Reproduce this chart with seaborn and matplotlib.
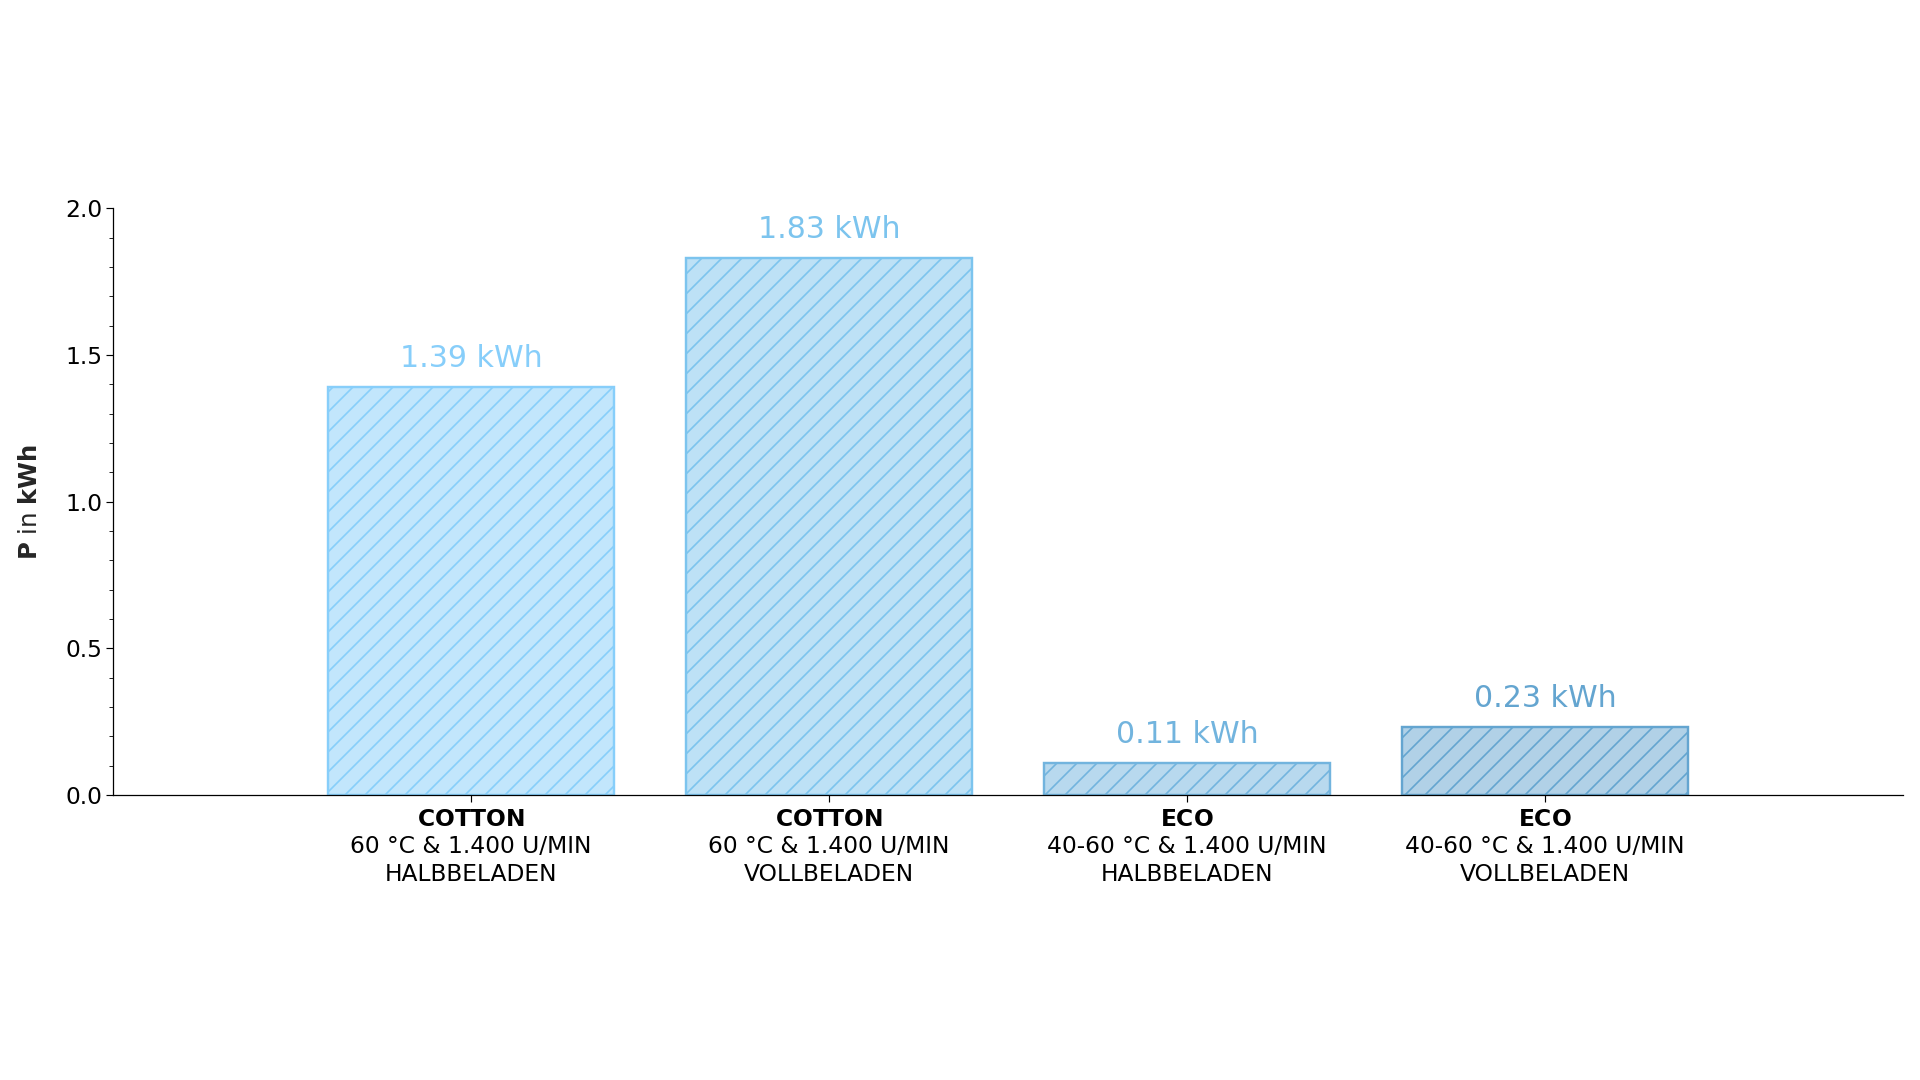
import matplotlib
matplotlib.use("Agg")
import matplotlib.pyplot as plt
from matplotlib.colors import to_rgba
from matplotlib.ticker import MultipleLocator
import seaborn as sns
import pandas as pd

programs = ["COTTON", "COTTON", "ECO", "ECO"]
settings = ["60 °C & 1.400 U/MIN", "60 °C & 1.400 U/MIN",
            "40-60 °C & 1.400 U/MIN", "40-60 °C & 1.400 U/MIN"]
loads = ["HALBBELADEN", "VOLLBELADEN", "HALBBELADEN", "VOLLBELADEN"]
values = [1.39, 1.83, 0.11, 0.23]
colors = ["#87cefa", "#7cc4ee", "#72b4de", "#64a5d0"]

labels = [f"$\\bf{{{p}}}$\n{s}\n{l}" for p, s, l in zip(programs, settings, loads)]
df = pd.DataFrame({"label": labels, "value": values})

sns.set_style("ticks")
plt.rcParams["font.family"] = ["DejaVu Sans"]
plt.rcParams["hatch.linewidth"] = 1.0

DPI = 120
fig = plt.figure(figsize=(1920 / DPI, 1080 / DPI), dpi=DPI)
ax = fig.add_axes([0.059, 0.264, 0.932, 0.543])

sns.barplot(data=df, x="label", y="value", hue="label", palette=colors,
            legend=False, width=0.8, ax=ax, saturation=1)

for patch, c in zip(ax.patches, colors):
    patch.set_facecolor(to_rgba(c, 0.5))
    patch.set_edgecolor(c)
    patch.set_hatch("//")
    patch.set_linewidth(1.45)

for container, c, v in zip(ax.containers, colors, values):
    ax.bar_label(container, labels=[f"{v:.2f} kWh"], padding=8.4,
                 fontsize=18, color=c)

ax.set_xlim(-1, 4)
ax.set_ylim(0, 2.0)
ax.yaxis.set_major_locator(MultipleLocator(0.5))
ax.yaxis.set_minor_locator(MultipleLocator(0.1))
ax.tick_params(axis="both", labelsize=14, colors="black", length=4.2, width=0.7)
ax.tick_params(axis="y", which="minor", length=2.4, width=0.6)
ax.tick_params(axis="y", pad=2.1)
ax.tick_params(axis="x", pad=3.6)
for t in ax.get_xticklabels():
    t.set_linespacing(1.24)
ax.set_xlabel("")
ax.set_ylabel(r"$\bf{P}$ in $\bf{kWh}$", fontsize=14.6, labelpad=14.4)
for sp in ax.spines.values():
    sp.set_color("black")
    sp.set_linewidth(0.75)
sns.despine(ax=ax)

fig.savefig("out.png", dpi=DPI)
